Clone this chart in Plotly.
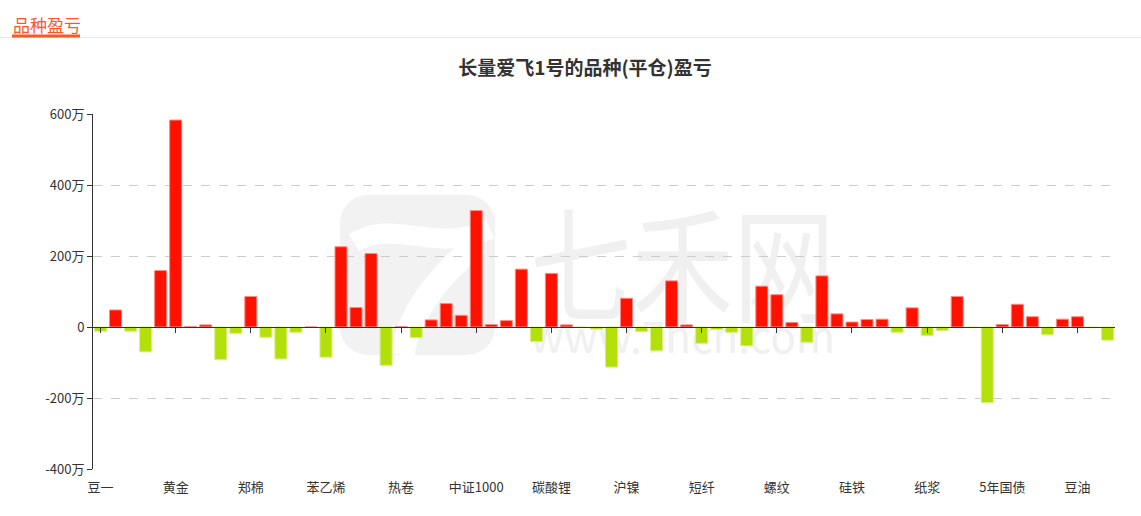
import base64
import plotly.graph_objects as go

# 品种 (68 个), 每 5 个显示一个标签
categories = [
    "豆一", "沪铜", "白银", "豆粕", "铁矿石", "黄金", "沪铝", "沪锌", "PTA", "甲醇",
    "郑棉", "菜粕", "玉米", "棕榈油", "焦炭", "苯乙烯", "原油", "燃油", "沥青", "玻璃",
    "热卷", "纯碱", "尿素", "生猪", "沪深300", "中证1000", "上证50", "中证500", "工业硅", "鸡蛋",
    "碳酸锂", "沪锡", "沪铅", "不锈钢", "焦煤", "沪镍", "塑料", "PP", "PVC", "乙二醇",
    "短纤", "橡胶", "20号胶", "白糖", "苹果", "螺纹", "锰硅", "红枣", "菜油", "花生",
    "硅铁", "液化气", "低硫燃油", "集运指数", "10年国债", "纸浆", "氧化铝", "30年国债", "豆二", "2年国债",
    "5年国债", "烧碱", "对二甲苯", "丁二烯橡胶", "瓶片", "豆油", "棉纱", "菜籽",
]

# 平仓盈亏 (万元)
pnl = [
    -12, 48, -12, -70, 159, 583, 1, 6, -92, -18,
    86, -29, -90, -15, 0, -85, 226, 55, 207, -108,
    1, -30, 20, 66, 33, 328, 7, 18, 163, -41,
    151, 6, -1, -6, -113, 81, -13, -67, 130, 6,
    -46, -7, -15, -53, 115, 91, 13, -43, 144, 37,
    14, 21, 22, -15, 54, -24, -10, 86, -2, -213,
    7, 64, 29, -22, 22, 29, -2, -37,
]

y_tickvals = [-400, -200, 0, 200, 400, 600]
y_ticktext = ["-400万", "-200万", "0", "200万", "400万", "600万"]

label_cats = categories[::5]

RED, GREEN = "#ff1100", "#b3e00b"
colors = [RED if v >= 0 else GREEN for v in pnl]
edges = ["#ff8a80" if v >= 0 else "#d9f07f" for v in pnl]

FONT = "Noto Sans CJK SC"
W, H = 1141, 516
L, R, T, B = 93, 1115, 114, 469


def px(x):
    return (x - L) / (R - L)


def py(y):
    return (B - y) / (B - T)


# 水印
wm_svg = """<svg xmlns='http://www.w3.org/2000/svg' width='500' height='165' viewBox='0 0 500 165'>
<rect x='0' y='0' width='155' height='160' rx='28' fill='#f2f2f2'/>
<path d='M14,48 C55,22 95,60 150,34' stroke='#ffffff' stroke-width='20' fill='none'/>
<path d='M138,48 C100,80 70,115 62,160' stroke='#ffffff' stroke-width='24' fill='none'/>
<text x='190' y='118' font-family='Noto Sans CJK SC' font-size='125' fill='#f0f0f0' textLength='305' lengthAdjust='spacingAndGlyphs'>七禾网</text>
<text x='190' y='158' font-family='Noto Sans CJK SC' font-size='44' fill='#f0f0f0' textLength='305' lengthAdjust='spacingAndGlyphs'>www.7hcn.com</text>
</svg>"""
wm_src = "data:image/svg+xml;base64," + base64.b64encode(wm_svg.encode("utf-8")).decode()

fig = go.Figure()

fig.add_trace(go.Bar(
    x=categories, y=pnl,
    marker=dict(color=colors, line=dict(color=edges, width=1)),
    hovertemplate="%{x}<br>%{y}万<extra></extra>",
))

# 零轴上的刻度
fig.add_trace(go.Scatter(
    x=categories, y=[0] * len(categories), xaxis="x2",
    mode="markers", marker=dict(opacity=0), hoverinfo="skip", showlegend=False,
))

fig.update_layout(
    width=W, height=H,
    margin=dict(l=L, r=W - R, t=T, b=H - B, pad=0),
    paper_bgcolor="white", plot_bgcolor="white",
    showlegend=False,
    bargap=0.2,
    font=dict(family=FONT, size=12, color="#333"),
    title=dict(
        text="<b>长量爱飞1号的品种(平仓)盈亏</b>",
        x=585 / W, xref="container", xanchor="center",
        y=1 - 68 / H, yref="container", yanchor="middle",
        font=dict(family=FONT, size=19, color="#333"),
    ),
    xaxis=dict(
        type="category", range=[-0.5, len(categories) - 0.5],
        tickmode="array", tickvals=label_cats, ticktext=label_cats,
        showline=False, ticks="outside", ticklen=6, tickcolor="rgba(0,0,0,0)",
        showgrid=False, zeroline=False,
        tickfont=dict(family=FONT, size=13, color="#333"),
    ),
    xaxis2=dict(
        type="category", range=[-0.5, len(categories) - 0.5],
        overlaying="x", anchor="free", position=0.4, side="bottom",
        tickmode="array", tickvals=label_cats,
        showticklabels=False, ticks="outside", ticklen=5, tickcolor="#333",
        showline=True, linecolor="#333", linewidth=1, showgrid=False, zeroline=False,
    ),
    yaxis=dict(
        range=[-400, 600], tickvals=y_tickvals, ticktext=y_ticktext,
        showline=True, linecolor="#333", linewidth=1,
        ticks="outside", ticklen=5, tickcolor="#333",
        showgrid=True, gridcolor="#cccccc", griddash="dash", gridwidth=1,
        zeroline=False,
        tickfont=dict(family=FONT, size=13, color="#333"),
    ),
    images=[dict(
        source=wm_src, xref="paper", yref="paper",
        x=px(340), y=py(195), sizex=px(840) - px(340), sizey=py(195) - py(360),
        xanchor="left", yanchor="top", sizing="stretch", layer="below",
    )],
    shapes=[
        dict(type="line", xref="paper", yref="paper", x0=px(0), x1=px(W), y0=py(37.5), y1=py(37.5),
             line=dict(color="#e8e8e8", width=1)),
        dict(type="line", xref="paper", yref="paper", x0=px(12), x1=px(80), y0=py(36), y1=py(36),
             line=dict(color="#ff5722", width=3)),
    ],
    annotations=[
        dict(text="品种盈亏", xref="paper", yref="paper", x=px(11), y=py(25),
             xanchor="left", yanchor="middle", showarrow=False,
             font=dict(family=FONT, size=17, color="#ff5722")),
    ],
)

fig.write_html("out.html", config={"displayModeBar": False},
               post_script="document.body.style.margin='0';")
